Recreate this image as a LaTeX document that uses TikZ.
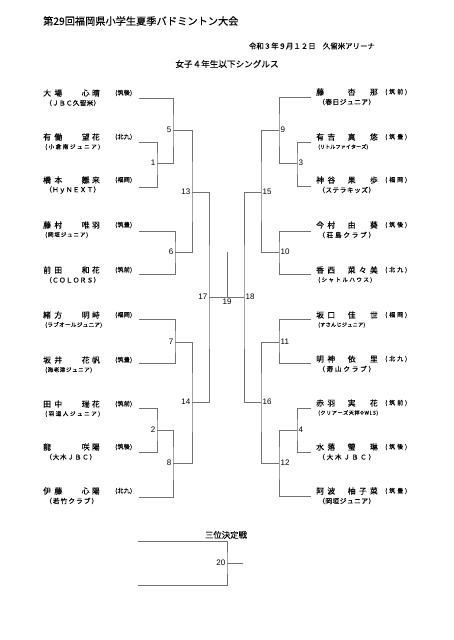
\documentclass[tikz,border=0pt]{standalone}
\usepackage{fontspec}
\setmainfont{Noto Sans CJK JP}[FakeBold=0.12]
\newfontfamily\numfont{Liberation Sans}
\makeatletter
\newcommand\spreadchars[1]{\let\sp@sep\relax\@tfor\sp@c:=#1\do{\sp@sep\sp@c\let\sp@sep\hfill}}
\makeatother
\newcommand\tsb{\fontsize{6.7}{7}\selectfont}
\newcommand\tss{\fontsize{5.6}{6}\selectfont}
\newcommand\tsx{\fontsize{5.1}{6}\selectfont}
\tikzset{
  nmf/.style={anchor=west,inner sep=0pt,font=\fontsize{7.8}{9}\selectfont},
  nmg/.style={anchor=east,inner sep=0pt,font=\fontsize{7.8}{9}\selectfont},
  affs/.style={anchor=west,inner sep=0pt,font=\fontsize{6}{7}\selectfont},
  teams/.style={anchor=west,inner sep=0pt},
  br/.style={draw=black!55,line width=0.7pt},
  numl/.style={anchor=east,inner sep=1.5pt,font=\numfont\fontsize{8}{9}\selectfont},
  numr/.style={anchor=west,inner sep=1.5pt,font=\numfont\fontsize{8}{9}\selectfont},
}
% left player: id, y, family, given, aff, team width, team text
\newcommand\lpl[7]{%
  \node[nmf] (#1f) at (43,#2) {\makebox[19pt][l]{\spreadchars{#3}}};
  \node[nmg] (#1g) at (100,#2) {\makebox[18pt][l]{\spreadchars{#4}}};
  \node[affs] (#1a) at (115,#2) {\makebox[17pt][l]{\spreadchars{#5}}};
  \node[teams] (#1t) at (45,#2+10) {\makebox[#6pt][l]{#7}};
}
\newcommand\rpl[7]{%
  \node[nmf] (#1f) at (316,#2) {\makebox[19pt][l]{\spreadchars{#3}}};
  \node[nmg] (#1g) at (378,#2) {\makebox[30pt][l]{\spreadchars{#4}}};
  \node[affs] (#1a) at (385,#2) {\makebox[22pt][l]{\spreadchars{#5}}};
  \node[teams] (#1t) at (318,#2+10) {\makebox[#6pt][l]{#7}};
}
\begin{document}
\begin{tikzpicture}[x=1pt,y=-1pt]
\useasboundingbox (0,0) rectangle (453,640);
\fill[white] (0,0) rectangle (453,640);
% headings
\node[anchor=west,inner sep=0pt,font=\fontsize{10.2}{12}\selectfont] (title) at (43,21) {第29回福岡県小学生夏季バドミントン大会};
\node[anchor=east,inner sep=0pt,font=\fontsize{7.4}{9}\selectfont] (date) at (375,46) {令和３年９月１２日　久留米アリーナ};
\node[inner sep=0pt,font=\fontsize{8.6}{10}\selectfont] (event) at (227,64) {女子４年生以下シングルス};
% left players
\lpl{L1}{93}{大場}{心晴}{(筑後)}{55}{\tsb\spreadchars{（ＪＢＣ久留米）}}
\lpl{L2}{137}{有働}{望花}{(北九)}{55}{\tss\spreadchars{(小倉南ジュニア)}}
\lpl{L3}{180}{橋本}{雛来}{(福岡)}{55}{\tsb\spreadchars{（ＨｙＮＥＸＴ）}}
\lpl{L4}{225}{藤村}{唯羽}{(筑豊)}{43}{\tss\spreadchars{(岡垣ジュニア)}}
\lpl{L5}{270}{前田}{和花}{(筑前)}{55}{\tsb\spreadchars{（ＣＯＬＯＲＳ）}}
\lpl{L6}{315}{緒方}{明峙}{(福岡)}{57}{\tss\spreadchars{(ラブオールジュニア)}}
\lpl{L7}{360}{坂井}{花帆}{(筑豊)}{47}{\tss\spreadchars{(海老津ジュニア)}}
\lpl{L8}{404}{田中}{瑞花}{(筑前)}{55}{\tss\spreadchars{(羽道人ジュニア)}}
\lpl{L9}{447}{龍}{咲陽}{(筑後)}{51}{\tsb\spreadchars{（大木ＪＢＣ）}}
\lpl{L10}{491}{伊藤}{心陽}{(北九)}{53}{\tsb\spreadchars{（若竹クラブ）}}
% right players
\rpl{R1}{92}{藤}{杏那}{(筑前)}{57}{\tsb\spreadchars{（春日ジュニア）}}
\rpl{R2}{137}{有吉}{真悠}{(筑豊)}{50}{\tsx\spreadchars{(リトルファイターズ)}}
\rpl{R3}{180}{神谷}{果歩}{(福岡)}{57}{\tsb\spreadchars{（ステラキッズ）}}
\rpl{R4}{225}{今村}{由葵}{(筑後)}{57}{\tsb\spreadchars{（荘島クラブ）}}
\rpl{R5}{270}{香西}{菜々美}{(北九)}{54}{\tss\spreadchars{(シャトルハウス)}}
\rpl{R6}{315}{坂口}{佳世}{(福岡)}{47}{\tsx\spreadchars{(すさんじジュニア)}}
\rpl{R7}{359}{明神}{依里}{(北九)}{57}{\tsb\spreadchars{（寿山クラブ）}}
\rpl{R8}{403}{赤羽}{実花}{(筑前)}{60}{\tsx\spreadchars{(クリアーズ天拝OWLS)}}
\rpl{R9}{447}{水落}{瑩琳}{(筑後)}{57}{\tsb\spreadchars{（大木ＪＢＣ）}}
\rpl{R10}{491}{阿波}{柚子菜}{(筑豊)}{57}{\tsb\spreadchars{（岡垣ジュニア）}}
% coordinates left
\coordinate (a1) at (139,98);  \coordinate (a2) at (139,142); \coordinate (a3) at (139,187);
\coordinate (a4) at (139,231); \coordinate (a5) at (139,274); \coordinate (a6) at (139,319);
\coordinate (a7) at (139,363); \coordinate (a8) at (139,408); \coordinate (a9) at (139,452);
\coordinate (a10) at (139,497);
\coordinate (m1) at (157,163); \coordinate (m5) at (173,130); \coordinate (m6) at (175,252);
\coordinate (m13) at (192,192); \coordinate (m7) at (175,342); \coordinate (m2) at (157,430);
\coordinate (m8) at (173,463); \coordinate (m14) at (192,402); \coordinate (m17) at (209,297);
\coordinate (m19) at (227,297); \coordinate (c19) at (227,252);
% coordinates right
\coordinate (b1) at (311,97);  \coordinate (b2) at (311,142); \coordinate (b3) at (311,186);
\coordinate (b4) at (311,231); \coordinate (b5) at (311,274); \coordinate (b6) at (311,319);
\coordinate (b7) at (311,363); \coordinate (b8) at (311,408); \coordinate (b9) at (311,452);
\coordinate (b10) at (311,496);
\coordinate (m3) at (297,163); \coordinate (m9) at (279,130); \coordinate (m10) at (279,252);
\coordinate (m15) at (261,192); \coordinate (m11) at (279,342); \coordinate (m4) at (297,430);
\coordinate (m12) at (279,463); \coordinate (m16) at (261,402); \coordinate (m18) at (244,297);
% left bracket
\draw[br] (a2) -| (m1) |- (a3);
\draw[br] (a1) -| (m5) |- (m1);
\draw[br] (m5) -| (m13) |- (m6);
\draw[br] (a4) -| (m6) |- (a5);
\draw[br] (m13) -| (m17) |- (m14);
\draw[br] (m7) -| (m14) |- (m8);
\draw[br] (a6) -| (m7) |- (a7);
\draw[br] (a8) -| (m2) |- (a9);
\draw[br] (m2) -| (m8) |- (a10);
% right bracket
\draw[br] (b2) -| (m3) |- (b3);
\draw[br] (b1) -| (m9) |- (m3);
\draw[br] (m9) -| (m15) |- (m10);
\draw[br] (b4) -| (m10) |- (b5);
\draw[br] (m15) -| (m18) |- (m16);
\draw[br] (m11) -| (m16) |- (m12);
\draw[br] (b6) -| (m11) |- (b7);
\draw[br] (b8) -| (m4) |- (b9);
\draw[br] (m4) -| (m12) |- (b10);
% final
\draw[br] (m17) -- (m18);
\draw[br] (m19) -- (c19);
% match numbers
\node[numl] (n1) at (m1) {1};
\node[numl] (n5) at (m5) {5};
\node[numl] (n13) at (m13) {13};
\node[numl] (n6) at (m6) {6};
\node[numl] (n17) at (m17) {17};
\node[numl] (n7) at (m7) {7};
\node[numl] (n14) at (m14) {14};
\node[numl] (n2) at (m2) {2};
\node[numl] (n8) at (m8) {8};
\node[numr] (n9) at (m9) {9};
\node[numr] (n3) at (m3) {3};
\node[numr] (n15) at (m15) {15};
\node[numr] (n10) at (m10) {10};
\node[numr] (n18) at (m18) {18};
\node[numr] (n11) at (m11) {11};
\node[numr] (n16) at (m16) {16};
\node[numr] (n4) at (m4) {4};
\node[numr] (n12) at (m12) {12};
\node[anchor=north,inner sep=1.5pt,font=\numfont\fontsize{8}{9}\selectfont] (n19) at (m19) {19};
% third place
\coordinate (t1) at (138,541); \coordinate (t3) at (138,585);
\coordinate (m20) at (227,563); \coordinate (t4) at (243,563);
\draw[br] (t1) -| (m20) |- (t3);
\draw[br] (m20) -- (t4);
\node[numl] (n20) at (m20) {20};
\node[anchor=south,inner sep=1pt,font=\fontsize{8.4}{10}\selectfont] (third) at (226,540) {三位決定戦};
\end{tikzpicture}
\end{document}
